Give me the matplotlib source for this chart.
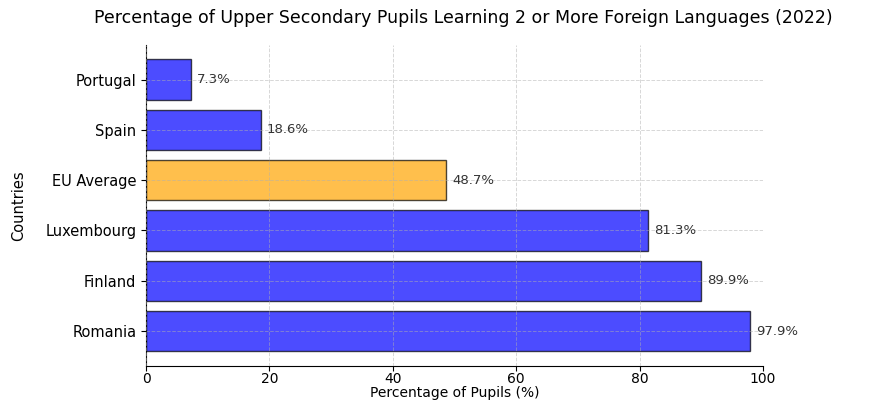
import numpy as np
from matplotlib import pyplot as plt

plt.rcParams["font.family"] = "DejaVu Sans"

# Data
countries = ["Romania", "Finland", "Luxembourg", "EU Average", "Spain", "Portugal"]
values = [97.9, 89.9, 81.3, 48.7, 18.6, 7.3]
colors = ["blue", "blue", "blue", "orange", "blue", "blue"]

fig, ax = plt.subplots(figsize=(8.77, 4.01), dpi=100)
fig.subplots_adjust(left=0.1665, right=0.870, top=0.888, bottom=0.088)

bars = ax.barh(countries, values, color=colors, alpha=0.7, edgecolor="black", height=0.8)

# - Value labels
for bar, val in zip(bars, values):
    ax.text(
        bar.get_width() + 1,
        bar.get_y() + bar.get_height() / 2,
        f"{val}%",
        va="center",
        ha="left",
        fontsize=9.5,
        color="#333333",
    )

ax.set_xlim(0, 100)
ax.set_xlabel("Percentage of Pupils (%)", fontsize=10, labelpad=0)
ax.set_ylabel("Countries", fontsize=10.5, family="Liberation Sans Narrow")
ax.yaxis.set_label_coords(-0.195, 0.5)
ax.set_title(
    "Percentage of Upper Secondary Pupils Learning 2 or More Foreign Languages (2022)",
    fontsize=12.5,
    pad=16,
    x=0.515,
)
ax.tick_params(labelsize=10.5)
ax.tick_params(axis="x", labelsize=10, pad=1)
ax.grid(True, linestyle="--", alpha=0.5, linewidth=0.7)
ax.set_axisbelow(False)
ax.spines["top"].set_visible(False)
ax.spines["right"].set_visible(False)

plt.savefig("out.png", dpi=100)
